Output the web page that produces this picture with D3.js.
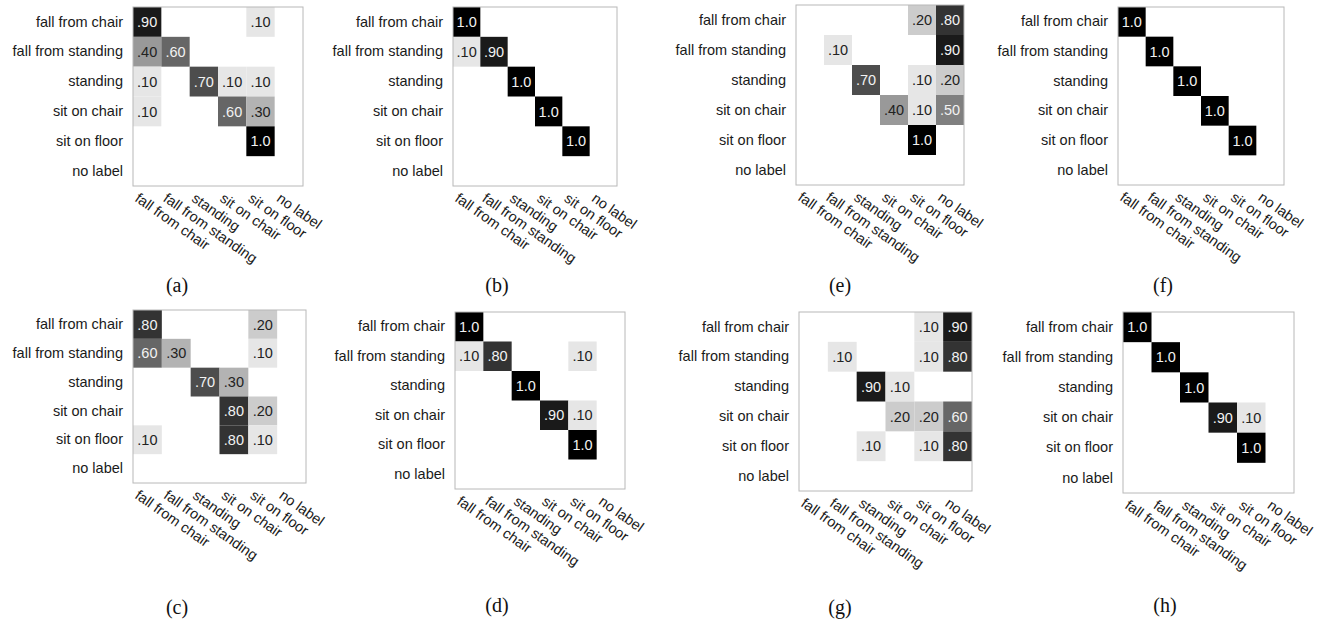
<!DOCTYPE html>
<html>
<head>
<meta charset="utf-8">
<script src="https://cdn.jsdelivr.net/npm/d3@7"></script>
<style>
  html, body { margin: 0; padding: 0; background: #fff; }
  svg { display: block; }
</style>
</head>
<body>
<svg id="chart" width="1336" height="621"></svg>
<script>
// ---------- DATA ----------
const categories = ["fall from chair", "fall from standing", "standing", "sit on chair", "sit on floor", "no label"];
const panelLetters = ["a", "b", "e", "f", "c", "d", "g", "h"];

const matrixA = [
  [.9, 0, 0, 0, .1, 0],
  [.4, .6, 0, 0, 0, 0],
  [.1, 0, .7, .1, .1, 0],
  [.1, 0, 0, .6, .3, 0],
  [0, 0, 0, 0, 1, 0],
  [0, 0, 0, 0, 0, 0]
];
const matrixB = [
  [1, 0, 0, 0, 0, 0],
  [.1, .9, 0, 0, 0, 0],
  [0, 0, 1, 0, 0, 0],
  [0, 0, 0, 1, 0, 0],
  [0, 0, 0, 0, 1, 0],
  [0, 0, 0, 0, 0, 0]
];
const matrixE = [
  [0, 0, 0, 0, .2, .8],
  [0, .1, 0, 0, 0, .9],
  [0, 0, .7, 0, .1, .2],
  [0, 0, 0, .4, .1, .5],
  [0, 0, 0, 0, 1, 0],
  [0, 0, 0, 0, 0, 0]
];
const matrixF = [
  [1, 0, 0, 0, 0, 0],
  [0, 1, 0, 0, 0, 0],
  [0, 0, 1, 0, 0, 0],
  [0, 0, 0, 1, 0, 0],
  [0, 0, 0, 0, 1, 0],
  [0, 0, 0, 0, 0, 0]
];
const matrixC = [
  [.8, 0, 0, 0, .2, 0],
  [.6, .3, 0, 0, .1, 0],
  [0, 0, .7, .3, 0, 0],
  [0, 0, 0, .8, .2, 0],
  [.1, 0, 0, .8, .1, 0],
  [0, 0, 0, 0, 0, 0]
];
const matrixD = [
  [1, 0, 0, 0, 0, 0],
  [.1, .8, 0, 0, .1, 0],
  [0, 0, 1, 0, 0, 0],
  [0, 0, 0, .9, .1, 0],
  [0, 0, 0, 0, 1, 0],
  [0, 0, 0, 0, 0, 0]
];
const matrixG = [
  [0, 0, 0, 0, .1, .9],
  [0, .1, 0, 0, .1, .8],
  [0, 0, .9, .1, 0, 0],
  [0, 0, 0, .2, .2, .6],
  [0, 0, .1, 0, .1, .8],
  [0, 0, 0, 0, 0, 0]
];
const matrixH = [
  [1, 0, 0, 0, 0, 0],
  [0, 1, 0, 0, 0, 0],
  [0, 0, 1, 0, 0, 0],
  [0, 0, 0, .9, .1, 0],
  [0, 0, 0, 0, 1, 0],
  [0, 0, 0, 0, 0, 0]
];
const matrices = [matrixA, matrixB, matrixE, matrixF, matrixC, matrixD, matrixG, matrixH];

// ---------- LAYOUT (positions only) ----------
const layout = [
  { left: 133,  top: 7,   w: 170, h: 179, capX: 177,  capY: 285 },
  { left: 453,  top: 7,   w: 164, h: 179, capX: 497,  capY: 285 },
  { left: 796,  top: 5,   w: 168, h: 180, capX: 840,  capY: 285 },
  { left: 1118, top: 7,   w: 166, h: 178, capX: 1163, capY: 285 },
  { left: 133,  top: 310, w: 173, h: 173, capX: 177,  capY: 607 },
  { left: 455,  top: 312, w: 170, h: 177, capX: 497,  capY: 605 },
  { left: 799,  top: 312, w: 173, h: 179, capX: 840,  capY: 607 },
  { left: 1123, top: 312, w: 171, h: 181, capX: 1165, capY: 605 }
];

// ---------- DRAW ----------
const svg = d3.select("#chart");
const fill = d3.scaleLinear().domain([0, 1]).range(["#ffffff", "#000000"]);
const fmt = v => v >= 1 ? "1.0" : d3.format(".2f")(v).replace(/^0/, "");
const sans = "'Liberation Sans', Arial, Helvetica, sans-serif";

matrices.forEach((m, i) => {
  const L = layout[i];
  const g = svg.append("g").attr("transform", `translate(${L.left},${L.top})`);
  const x = d3.scaleBand().domain(categories).range([0, L.w]).padding(0);
  const y = d3.scaleBand().domain(categories).range([0, L.h]).padding(0);

  const cells = [];
  m.forEach((row, r) => row.forEach((v, c) => {
    if (v > 0) cells.push({ r: categories[r], c: categories[c], v });
  }));

  g.selectAll("rect.cell").data(cells).join("rect")
    .attr("class", "cell")
    .attr("x", d => x(d.c))
    .attr("y", d => y(d.r))
    .attr("width", x.bandwidth())
    .attr("height", y.bandwidth())
    .attr("fill", d => fill(d.v));

  g.selectAll("text.val").data(cells).join("text")
    .attr("class", "val")
    .attr("x", d => x(d.c) + x.bandwidth() / 2)
    .attr("y", d => y(d.r) + y.bandwidth() / 2)
    .attr("dy", "0.36em")
    .attr("text-anchor", "middle")
    .style("font-family", sans)
    .style("font-size", "14.5px")
    .attr("fill", d => d.v >= 0.5 ? "#f2f2f2" : "#222")
    .text(d => fmt(d.v));

  g.append("rect")
    .attr("x", 0).attr("y", 0)
    .attr("width", L.w).attr("height", L.h)
    .attr("fill", "none")
    .attr("stroke", "#b8b8b8")
    .attr("stroke-width", 1);

  // y axis (row labels)
  const ya = g.append("g").call(d3.axisLeft(y).tickSize(0).tickPadding(10));
  ya.select(".domain").remove();
  ya.selectAll("text")
    .style("font-family", sans)
    .style("font-size", "14.5px")
    .attr("fill", "#1a1a1a");

  // x axis (rotated labels)
  const xa = g.append("g")
    .attr("transform", `translate(0,${L.h})`)
    .call(d3.axisBottom(x).tickSize(0));
  xa.select(".domain").remove();
  xa.selectAll("text")
    .style("font-family", sans)
    .style("font-size", "14.5px")
    .attr("fill", "#1a1a1a")
    .attr("text-anchor", "start")
    .attr("x", 0).attr("y", 0).attr("dy", "0.72em")
    .attr("transform", `translate(${-x.bandwidth() / 2 + 7},6) rotate(35)`);

  // caption
  svg.append("text")
    .attr("x", L.capX)
    .attr("y", L.capY)
    .attr("dy", "0.33em")
    .attr("text-anchor", "middle")
    .style("font-family", "'Liberation Serif', 'Times New Roman', serif")
    .style("font-size", "20px")
    .attr("fill", "#111")
    .text(`(${panelLetters[i]})`);
});
</script>
</body>
</html>
